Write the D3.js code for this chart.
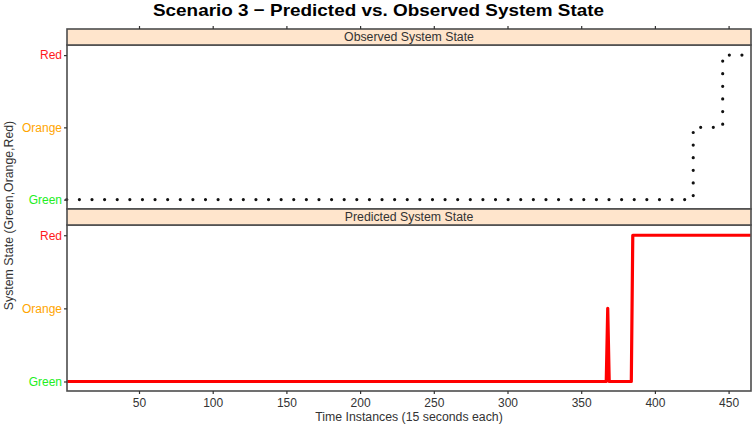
<!DOCTYPE html>
<html lang="en">
<head>
    <meta charset="UTF-8">
    <title>Scenario 3 - Predicted vs. Observed System State</title>
    <script src="https://d3js.org/d3.v7.min.js"></script>
    <style>
        body {
            margin: 0;
            background: #fff;
            font-family: "Liberation Sans", Arial, sans-serif;
        }
        .frame {
            fill: none;
            stroke: #4d4d4d;
            stroke-width: 1.6px;
        }
        .strip rect {
            fill: #ffe5cc;
            stroke: #4d4d4d;
            stroke-width: 1.6px;
        }
        .strip text {
            font-size: 12.3px;
            fill: #333;
            text-anchor: middle;
        }
    </style>
</head>
<body>
<svg id="chart"></svg>
<script>
    // Data
    const stateNames = ["Green", "Orange", "Red"];
    const stateColors = ["#22ee22", "#ffa500", "#ff1a1a"];
    const xTicks = [50, 100, 150, 200, 250, 300, 350, 400, 450];

    // Observed state (step changes)
    const obsTime = [1, 426, 446, 465];
    const obsState = [1, 2, 3, 3];

    // Predicted state (points where the line bends)
    const predTime = [1, 367, 368, 369, 384, 385, 465];
    const predState = [1, 1, 2, 1, 1, 3, 3];

    const width = 756;
    const height = 428;
    const left = 67, right = 751;

    const svg = d3.select("#chart")
        .attr("width", width)
        .attr("height", height);

    const x = d3.scaleLinear().domain([1.15, 465.2]).range([left, right]);

    // panels: strip on top of each
    const panels = [
        {name: "Observed System State", stripTop: 29, top: 45, bottom: 209},
        {name: "Predicted System State", stripTop: 209, top: 225, bottom: 391}
    ];
    panels.forEach(p => {
        p.y = d3.scaleLinear().domain([0.87, 3.14]).range([p.bottom, p.top]);
    });

    // Title
    svg.append("text")
        .attr("x", 378.5)
        .attr("y", 16)
        .attr("text-anchor", "middle")
        .attr("font-size", "17px")
        .attr("font-weight", "bold")
        .attr("fill", "#000")
        .attr("textLength", 451)
        .attr("lengthAdjust", "spacingAndGlyphs")
        .text("Scenario 3 \u2212 Predicted vs. Observed System State");

    // Lines
    const obsLine = d3.line()
        .x((d, i) => x(obsTime[i]))
        .y(d => panels[0].y(d))
        .curve(d3.curveStepAfter);

    svg.append("path")
        .attr("d", obsLine(obsState))
        .attr("fill", "none")
        .attr("stroke", "#111")
        .attr("stroke-width", 3.2)
        .attr("stroke-linecap", "round")
        .attr("stroke-dasharray", "0 12.61");

    const predLine = d3.line()
        .x((d, i) => x(predTime[i]))
        .y(d => panels[1].y(d));

    svg.append("path")
        .attr("d", predLine(predState))
        .attr("fill", "none")
        .attr("stroke", "#ff0000")
        .attr("stroke-width", 3.2)
        .attr("stroke-linejoin", "round");

    // Panel frames, strips, y axes
    panels.forEach(p => {
        svg.append("rect")
            .attr("class", "frame")
            .attr("x", left)
            .attr("y", p.top)
            .attr("width", right - left)
            .attr("height", p.bottom - p.top);

        const strip = svg.append("g").attr("class", "strip");
        strip.append("rect")
            .attr("x", left)
            .attr("y", p.stripTop)
            .attr("width", right - left)
            .attr("height", p.top - p.stripTop);
        strip.append("text")
            .attr("x", (left + right) / 2)
            .attr("y", p.stripTop + 12.3)
            .text(p.name);

        const yAxis = svg.append("g")
            .attr("transform", `translate(${left},0)`)
            .call(d3.axisLeft(p.y).tickValues([1, 2, 3]).tickSize(3).tickPadding(2)
                .tickFormat(d => stateNames[d - 1]));
        yAxis.select(".domain").remove();
        yAxis.selectAll(".tick line").attr("stroke", "#333").attr("stroke-width", 1.2);
        yAxis.selectAll(".tick text")
            .attr("font-size", "12px")
            .attr("font-family", "Liberation Sans, Arial, sans-serif")
            .attr("fill", d => stateColors[d - 1]);
    });

    // X axis ticks: top of first strip, bottom of last panel
    const topAxis = svg.append("g")
        .attr("transform", `translate(0,${panels[0].stripTop})`)
        .call(d3.axisTop(x).tickValues(xTicks).tickSize(3).tickFormat(""));
    topAxis.select(".domain").remove();
    topAxis.selectAll(".tick line").attr("stroke", "#333").attr("stroke-width", 1.2);

    const bottomAxis = svg.append("g")
        .attr("transform", `translate(0,${panels[1].bottom})`)
        .call(d3.axisBottom(x).tickValues(xTicks).tickSize(3).tickPadding(4));
    bottomAxis.select(".domain").remove();
    bottomAxis.selectAll(".tick line").attr("stroke", "#333").attr("stroke-width", 1.2);
    bottomAxis.selectAll(".tick text")
        .attr("font-size", "12px")
        .attr("font-family", "Liberation Sans, Arial, sans-serif")
        .attr("fill", "#333");

    // Axis titles
    svg.append("text")
        .attr("x", (left + right) / 2)
        .attr("y", 421)
        .attr("text-anchor", "middle")
        .attr("font-size", "12.3px")
        .attr("fill", "#333")
        .text("Time Instances (15 seconds each)");

    svg.append("text")
        .attr("transform", "translate(13,215.5) rotate(-90)")
        .attr("text-anchor", "middle")
        .attr("font-size", "12.3px")
        .attr("fill", "#333")
        .text("System State (Green,Orange,Red)");
</script>
</body>
</html>
